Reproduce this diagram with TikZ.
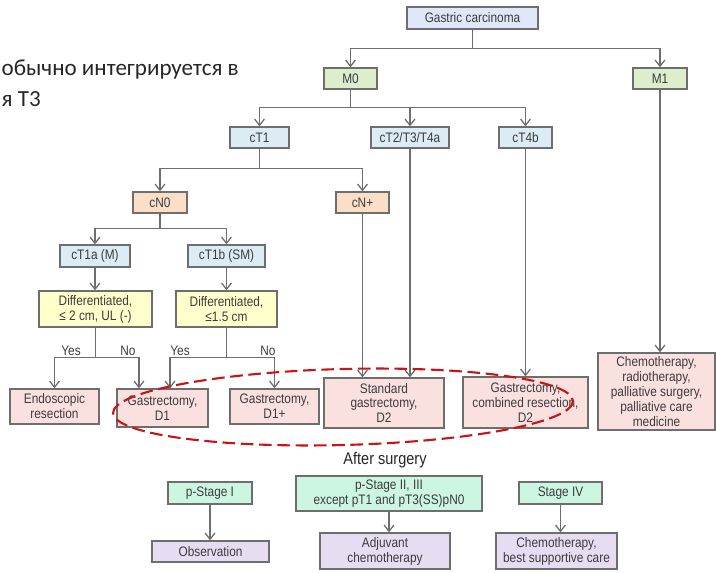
\documentclass[tikz,border=0pt]{standalone}
\usepackage{fontspec}
\setmainfont{Liberation Sans}[FakeStretch=0.86]
\newfontfamily\rufont{Carlito}
\usetikzlibrary{arrows.meta}

\definecolor{rootfill}{RGB}{224,231,248}
\definecolor{mfill}{RGB}{221,238,204}
\definecolor{tfill}{RGB}{219,236,244}
\definecolor{nfill}{RGB}{251,222,200}
\definecolor{condfill}{RGB}{255,255,204}
\definecolor{treatfill}{RGB}{251,224,224}
\definecolor{pfill}{RGB}{204,246,226}
\definecolor{afterfill}{RGB}{231,221,243}
\definecolor{linegray}{RGB}{110,110,110}
\definecolor{textgray}{RGB}{60,60,60}
\definecolor{ringred}{RGB}{200,20,20}

\begin{document}
\begin{tikzpicture}[x=0.025cm,y=-0.025cm,>={Straight Barb[length=4.5pt,width=7pt]},line width=0.9pt,
  box/.style={draw=linegray,text=textgray,inner sep=1pt,align=center,font=\fontsize{9.8}{10.6}\selectfont},
  box size/.style 2 args={minimum width=#1*0.025cm,minimum height=#2*0.025cm},
  root node/.style={box,fill=rootfill},
  m node/.style={box,fill=mfill},
  t node/.style={box,fill=tfill},
  n node/.style={box,fill=nfill},
  cond node/.style={box,fill=condfill},
  treat node/.style={box,fill=treatfill},
  p node/.style={box,fill=pfill},
  a node/.style={box,fill=afterfill},
  answer/.style={text=textgray,inner sep=0pt,font=\fontsize{9.8}{10.6}\selectfont},
  link/.style={->,draw=linegray}]
  \useasboundingbox (0,0) rectangle (716,572);

  % leftover slide text
  \node[anchor=west,inner sep=0pt,font=\rufont\fontsize{16.4}{18}\selectfont,text=black!85] (ru1) at (1,70) {обычно интегрируется в};
  \node[anchor=west,inner sep=0pt,font=\rufont\fontsize{16.4}{18}\selectfont,text=black!85] (ru2) at (1,99) {я Т3};

  \node[root node,box size={131}{22}] (gc) at (472.5,18) {Gastric carcinoma};
  \node[m node,box size={53}{21}] (m0) at (350.5,78.5) {M0};
  \node[m node,box size={54}{21}] (m1) at (660,78.5) {M1};
  \node[t node,box size={59}{21}] (ct1) at (259.5,137.5) {cT1};
  \node[t node,box size={78}{21}] (ct2) at (410,137.5) {cT2/T3/T4a};
  \node[t node,box size={53}{21}] (ct4b) at (525.5,137.5) {cT4b};
  \node[n node,box size={54}{21}] (cn0) at (160,202.5) {cN0};
  \node[n node,box size={53}{21}] (cnp) at (362.5,202.5) {cN+};
  \node[t node,box size={70}{22}] (ct1a) at (95,256) {cT1a (M)};
  \node[t node,box size={77}{22}] (ct1b) at (226.5,256) {cT1b (SM)};
  \node[cond node,box size={113}{36}] (diffa) at (95.5,309) {Differentiated,\\≤ 2 cm, UL (-)};
  \node[cond node,box size={101}{36}] (diffb) at (226.5,309) {Differentiated,\\≤1.5 cm};
  \node[treat node,box size={89}{35}] (endo) at (54.5,406.5) {Endoscopic\\resection};
  \node[treat node,box size={91}{38}] (gd1) at (162.5,408) {Gastrectomy,\\D1};
  \node[treat node,box size={89}{35}] (gd1p) at (274.5,406.5) {Gastrectomy,\\D1+};
  \node[treat node,box size={120}{50}] (std) at (384,403) {Standard\\gastrectomy,\\D2};
  \node[treat node,box size={125}{51}] (comb) at (525.5,402.5) {Gastrectomy,\\combined resection,\\D2};
  \node[treat node,box size={117}{77}] (chemo) at (656.5,391.5) {Chemotherapy,\\radiotherapy,\\palliative surgery,\\palliative care\\medicine};

  \node[answer] (yesa) at (71,351) {Yes};
  \node[answer] (noa) at (128,351) {No};
  \node[answer] (yesb) at (180,351) {Yes};
  \node[answer] (nob) at (268,351) {No};

  \node[text=black!85,font=\fontsize{12}{13}\selectfont] (after) at (385,460) {After surgery};
  \node[p node,box size={84}{22}] (ps1) at (210,493) {p-Stage I};
  \node[p node,box size={186}{35}] (ps2) at (389,493.5) {p-Stage II, III\\except pT1 and pT3(SS)pN0};
  \node[p node,box size={83}{22}] (ps4) at (560.5,493) {Stage IV};
  \node[a node,box size={117}{21}] (obs) at (210.5,551.5) {Observation};
  \node[a node,box size={130}{36}] (adj) at (385,551) {Adjuvant\\chemotherapy};
  \node[a node,box size={121}{36}] (bsc) at (556.5,551) {Chemotherapy,\\best supportive care};

  \draw[link] (gc.south) -- ++(0,19) -| (m0.north);
  \draw[link] (gc.south) -- ++(0,19) -| (m1.north);
  \draw[link] (m0.south) -- ++(0,18) -| (ct1.north);
  \draw[link] (m0.south) -- ++(0,18) -| (ct2.north);
  \draw[link] (m0.south) -- ++(0,18) -| (ct4b.north);
  \draw[link] (ct1.south) -- ++(0,20) -| (cn0.north);
  \draw[link] (ct1.south) -- ++(0,20) -| (cnp.north);
  \draw[link] (cn0.south) -- ++(0,15) -| (ct1a.north);
  \draw[link] (cn0.south) -- ++(0,15) -| (ct1b.north);
  \draw[link] (ct1a.south) -- (ct1a.south |- diffa.north);
  \draw[link] (ct1b.south) -- (ct1b.south |- diffb.north);
  \draw[link] (diffa.south) -- ++(0,30) -| (endo.north);
  \draw[link] (diffa.south) -- ++(0,30) -| ([xshift=-0.5875cm]gd1.north);
  \draw[link] (diffb.south) -- ++(0,30) -| ([xshift=0.1875cm]gd1.north);
  \draw[link] (diffb.south) -- ++(0,30) -| (gd1p.north);
  \draw[link] (cnp.south) -- (cnp.south |- std.north);
  \draw[link] (ct2.south) -- (ct2.south |- std.north);
  \draw[link] (ct4b.south) -- (ct4b.south |- comb.north);
  \draw[link] (m1.south) -- (m1.south |- chemo.north);
  \draw[link] (ps1.south) -- (ps1.south |- obs.north);
  \draw[link] (ps2.south) -- (ps2.south |- adj.north);
  \draw[link] (ps4.south) -- (ps4.south |- bsc.north);

  % the D1 / D2 surgery group
  \draw[ringred,line width=1.5pt,dash pattern=on 9pt off 4pt] (343,407) ellipse [x radius=230,y radius=38,rotate=1.5];
\end{tikzpicture}
\end{document}
